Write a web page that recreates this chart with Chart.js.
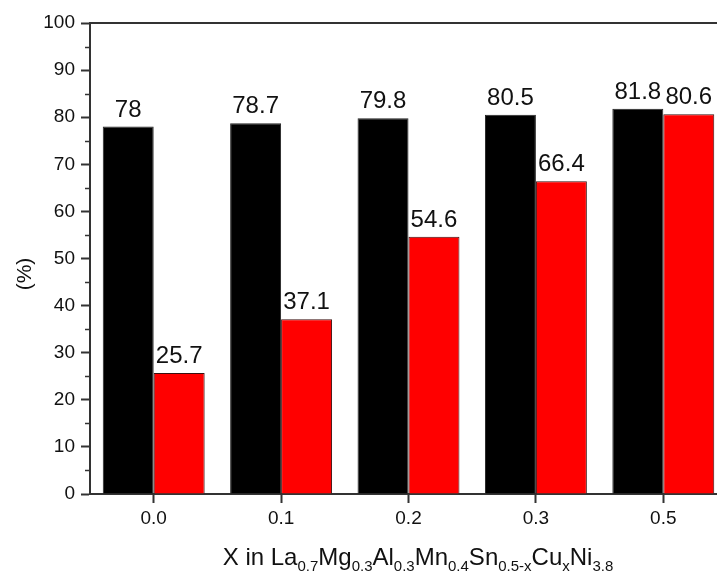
<!DOCTYPE html>
<html>
<head>
<meta charset="utf-8">
<script src="https://cdn.jsdelivr.net/npm/chart.js@4"></script>
<style>
  html, body { margin: 0; padding: 0; background: #fff; overflow: hidden; }
  #wrap { width: 717px; height: 573px; overflow: hidden; }
</style>
</head>
<body>
<div id="wrap"><canvas id="c" width="740" height="573"></canvas></div>
<script>
// 資料
const categories = ["0.0", "0.1", "0.2", "0.3", "0.5"];
const blackValues = [78, 78.7, 79.8, 80.5, 81.8];
const redValues = [25.7, 37.1, 54.6, 66.4, 80.6];
const yTicks = [0, 10, 20, 30, 40, 50, 60, 70, 80, 90, 100];
const minorTicks = [5, 15, 25, 35, 45, 55, 65, 75, 85, 95];

// x 軸標題 (含下標)
const titleParts = [
  ["X in La", false], ["0.7", true], ["Mg", false], ["0.3", true],
  ["Al", false], ["0.3", true], ["Mn", false], ["0.4", true],
  ["Sn", false], ["0.5-x", true], ["Cu", false], ["x", true],
  ["Ni", false], ["3.8", true]
];

const FONT = "'Liberation Sans', Arial, sans-serif";
const AXIS = "#333";
const TEXT = "#111";

// 額外繪製：數值標籤、次刻度、上框線、軸標題
const extras = {
  id: "extras",
  afterDraw(chart) {
    const ctx = chart.ctx;
    const area = chart.chartArea;
    const y = chart.scales.y;
    ctx.save();

    // 上框線
    ctx.strokeStyle = AXIS;
    ctx.lineWidth = 2;
    ctx.beginPath();
    ctx.moveTo(area.left, area.top);
    ctx.lineTo(area.right, area.top);
    ctx.stroke();

    // 次刻度
    ctx.lineWidth = 1.5;
    minorTicks.forEach(v => {
      const py = Math.round(y.getPixelForValue(v)) + 0.5;
      ctx.beginPath();
      ctx.moveTo(area.left - 5, py);
      ctx.lineTo(area.left, py);
      ctx.stroke();
    });

    // 數值標籤
    ctx.fillStyle = TEXT;
    ctx.font = "24px " + FONT;
    ctx.textAlign = "center";
    ctx.textBaseline = "alphabetic";
    chart.data.datasets.forEach((ds, i) => {
      chart.getDatasetMeta(i).data.forEach((bar, j) => {
        ctx.fillText(String(ds.data[j]), bar.x, bar.y - 10);
      });
    });

    // y 軸標題
    ctx.save();
    ctx.translate(25, 274);
    ctx.rotate(-Math.PI / 2);
    ctx.font = "21px " + FONT;
    ctx.textBaseline = "middle";
    ctx.fillText("(%)", 0, 0);
    ctx.restore();

    // x 軸標題
    const mainFont = "24px " + FONT;
    const subFont = "15px " + FONT;
    let total = 0;
    titleParts.forEach(([t, sub]) => {
      ctx.font = sub ? subFont : mainFont;
      total += ctx.measureText(t).width;
    });
    let x = 418 - total / 2;
    const base = 565;
    ctx.textAlign = "left";
    titleParts.forEach(([t, sub]) => {
      ctx.font = sub ? subFont : mainFont;
      ctx.fillText(t, x, sub ? base + 6 : base);
      x += ctx.measureText(t).width;
    });

    ctx.restore();
  }
};

new Chart(document.getElementById("c"), {
  type: "bar",
  data: {
    labels: categories,
    datasets: [
      {
        data: blackValues,
        backgroundColor: "#000000",
        borderColor: "#222",
        borderWidth: 1
      },
      {
        data: redValues,
        backgroundColor: "#ff0000",
        borderColor: "#3a1010",
        borderWidth: 1
      }
    ]
  },
  options: {
    responsive: false,
    animation: false,
    devicePixelRatio: 1,
    layout: { padding: { left: 0, top: 23, right: 13, bottom: 0 } },
    datasets: {
      bar: { barPercentage: 1, categoryPercentage: 0.8 }
    },
    plugins: {
      legend: { display: false },
      tooltip: { enabled: false }
    },
    scales: {
      x: {
        offset: true,
        grid: {
          offset: false,
          drawOnChartArea: false,
          drawTicks: true,
          tickLength: 9,
          tickWidth: 2,
          tickColor: AXIS
        },
        border: { display: true, color: AXIS, width: 2 },
        ticks: {
          color: TEXT,
          font: { family: FONT, size: 19 },
          padding: 4
        },
        afterFit(scale) { scale.height = 79; }
      },
      y: {
        min: 0,
        max: 100,
        afterBuildTicks(scale) {
          scale.ticks = yTicks.map(v => ({ value: v }));
        },
        grid: {
          drawOnChartArea: false,
          drawTicks: true,
          tickLength: 9,
          tickWidth: 2,
          tickColor: AXIS
        },
        border: { display: true, color: AXIS, width: 2 },
        ticks: {
          color: TEXT,
          font: { family: FONT, size: 19 },
          padding: 6
        },
        afterFit(scale) { scale.width = 90; }
      }
    }
  },
  plugins: [extras]
});
</script>
</body>
</html>
